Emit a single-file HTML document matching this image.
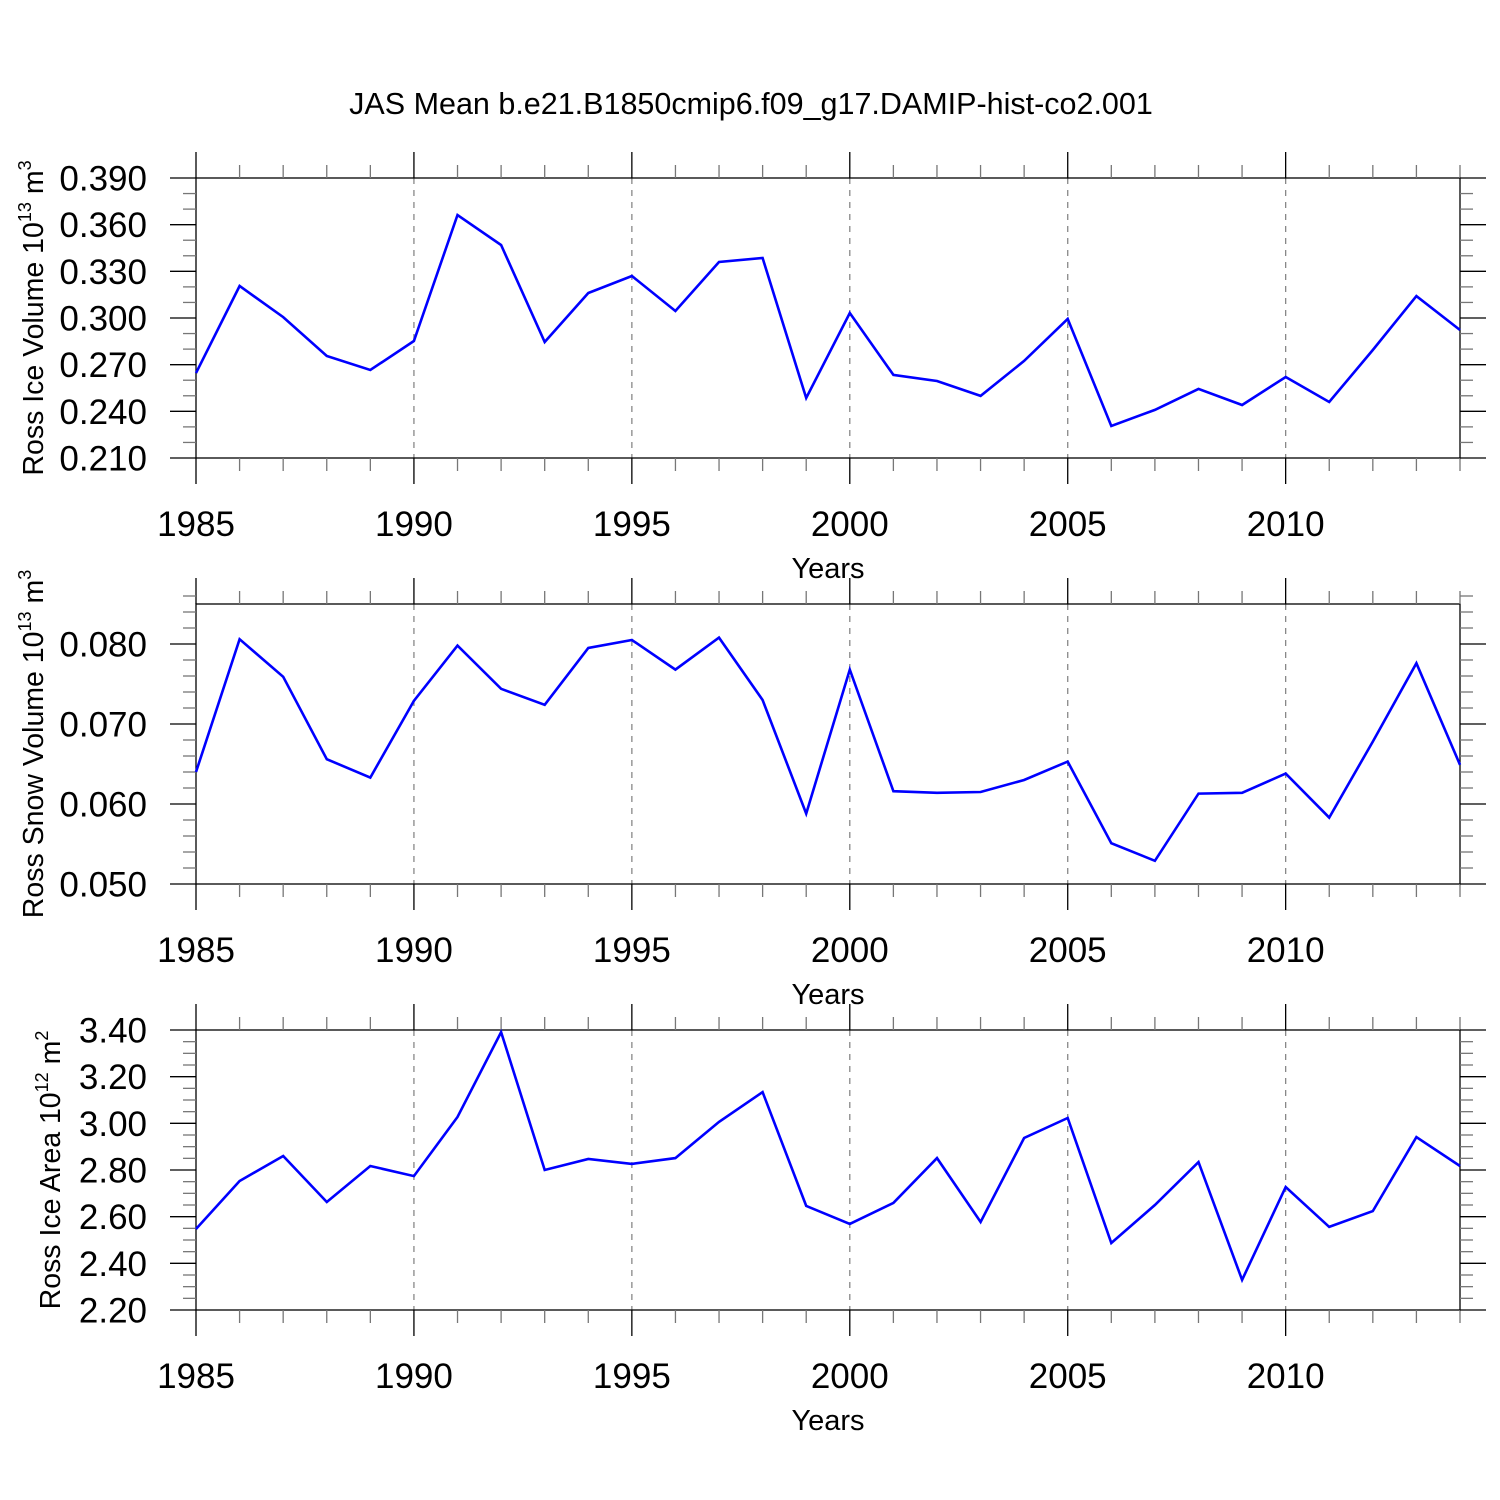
<!DOCTYPE html>
<html><head><meta charset="utf-8"><style>body{margin:0;background:#fff}svg{display:block}</style></head>
<body>
<svg id="c" width="1500" height="1500" xmlns="http://www.w3.org/2000/svg" font-family="Liberation Sans, Arial, sans-serif">
<rect width="1500" height="1500" fill="#fff"/>
<text x="751" y="114" font-size="30.5" text-anchor="middle">JAS Mean b.e21.B1850cmip6.f09_g17.DAMIP-hist-co2.001</text>
</svg>
<script>
const years = [1985,1986,1987,1988,1989,1990,1991,1992,1993,1994,1995,1996,1997,1998,1999,2000,2001,2002,2003,2004,2005,2006,2007,2008,2009,2010,2011,2012,2013,2014];
const iceVolume = [0.2646,0.3206,0.3006,0.2756,0.2666,0.2852,0.3662,0.3469,0.2846,0.3161,0.327,0.3045,0.336,0.3386,0.2486,0.3032,0.2634,0.2595,0.2499,0.2724,0.2994,0.2306,0.2409,0.2544,0.2441,0.2621,0.246,0.2794,0.3141,0.2923];
const snowVolume = [0.064,0.0806,0.0759,0.0656,0.0633,0.0729,0.0798,0.0744,0.0724,0.0795,0.0805,0.0768,0.0808,0.073,0.0588,0.0768,0.0616,0.0614,0.0615,0.063,0.0653,0.0551,0.0529,0.0613,0.0614,0.0638,0.0583,0.0678,0.0776,0.0649];
const iceArea = [2.547,2.753,2.86,2.663,2.817,2.774,3.027,3.391,2.80,2.847,2.826,2.851,3.006,3.134,2.646,2.569,2.659,2.851,2.577,2.937,3.023,2.487,2.65,2.834,2.329,2.727,2.556,2.624,2.941,2.817];
const xTickLabels = [1985,1990,1995,2000,2005,2010];
const iceVolTicks = ["0.210","0.240","0.270","0.300","0.330","0.360","0.390"];
const snowVolTicks = ["0.050","0.060","0.070","0.080"];
const iceAreaTicks = ["2.20","2.40","2.60","2.80","3.00","3.20","3.40"];

const svg = document.getElementById('c');
const NS = 'http://www.w3.org/2000/svg';
function mk(tag, attrs, parent){const e=document.createElementNS(NS,tag);for(const k in attrs)e.setAttribute(k,attrs[k]);(parent||svg).appendChild(e);return e;}

const X0=196, X1=1460;
function xs(y){return X0+(y-1985)/(2014-1985)*(X1-X0);}

const panels = [
 {top:178, vals:iceVolume, ticks:iceVolTicks, ymin:0.21, ymax:0.39, minor:0.01, title:['Ross Ice Volume 10','13',' m','3'], tx:33, name:'ice-volume'},
 {top:604, vals:snowVolume, ticks:snowVolTicks, ymin:0.05, ymax:0.085, minor:0.002, title:['Ross Snow Volume 10','13',' m','3'], tx:33, name:'snow-volume'},
 {top:1030, vals:iceArea, ticks:iceAreaTicks, ymin:2.2, ymax:3.4, minor:0.05, title:['Ross Ice Area 10','12',' m','2'], tx:50, name:'ice-area'}
];

panels.forEach(p=>{
  const g = mk('g',{});
  
  
  const T=p.top, B=p.top+280;
  const ys = v => B-(v-p.ymin)/(p.ymax-p.ymin)*280;
  xTickLabels.forEach(yr=>{
    if(yr===1985) return;
    const l=mk('line',{x1:xs(yr),x2:xs(yr),y1:T,y2:B,stroke:'#888','stroke-width':1.3,'stroke-dasharray':'6,6'},g);
    
    
  });
  const fr=mk('rect',{x:X0,y:T,width:X1-X0,height:280,fill:'none',stroke:'#000','stroke-width':1.3},g);
  
  
  years.forEach(yr=>{
    const major = (yr%5===0);
    const len = major?26:13;
    const x=xs(yr);
    mk('line',{x1:x,x2:x,y1:T,y2:T-len,stroke:major?'#000':'#777','stroke-width':1.3},g);
    mk('line',{x1:x,x2:x,y1:B,y2:B+len,stroke:major?'#000':'#777','stroke-width':1.3},g);
  });
  xTickLabels.forEach(yr=>{
    const t=mk('text',{x:xs(yr),y:B+78,'font-size':35,'text-anchor':'middle'},g);
    t.textContent=yr;
    
    
  });
  const xt=mk('text',{x:828,y:B+120,'font-size':29,'text-anchor':'middle'},g);
  xt.textContent='Years';
  
  
  const nMin=Math.round((p.ymax-p.ymin)/p.minor);
  const majStep=(parseFloat(p.ticks[1])-parseFloat(p.ticks[0]));
  for(let i=0;i<=nMin;i++){
    const v=p.ymin+i*p.minor;
    const r=(v-p.ymin)/majStep;
    const major=Math.abs(r-Math.round(r))<1e-6;
    const len=major?26:13;
    const y=ys(v);
    mk('line',{x1:X0,x2:X0-len,y1:y,y2:y,stroke:major?'#000':'#777','stroke-width':1.3},g);
    mk('line',{x1:X1,x2:X1+len,y1:y,y2:y,stroke:major?'#000':'#777','stroke-width':1.3},g);
  }
  p.ticks.forEach(s=>{
    const t=mk('text',{x:147,y:ys(parseFloat(s))+12.5,'font-size':35,'text-anchor':'end'},g);
    t.textContent=s;
    
    
  });
  const yt=mk('text',{x:0,y:0,'font-size':28.5,'text-anchor':'middle',transform:`translate(${p.tx+10},${T+140}) rotate(-90)`},g);
  
  
  const a=mk('tspan',{},yt); a.textContent=p.title[0];
  const b=mk('tspan',{dy:-12,'font-size':18},yt); b.textContent=p.title[1];
  const c=mk('tspan',{dy:12},yt); c.textContent=p.title[2];
  const d=mk('tspan',{dy:-12,'font-size':18},yt); d.textContent=p.title[3];
  const pts=years.map((yr,i)=>xs(yr).toFixed(1)+','+ys(p.vals[i]).toFixed(1)).join(' ');
  const pl=mk('polyline',{points:pts,fill:'none',stroke:'#0000ff','stroke-width':2.6,'stroke-linejoin':'miter'},g);
  
  
});
</script>
</body></html>
